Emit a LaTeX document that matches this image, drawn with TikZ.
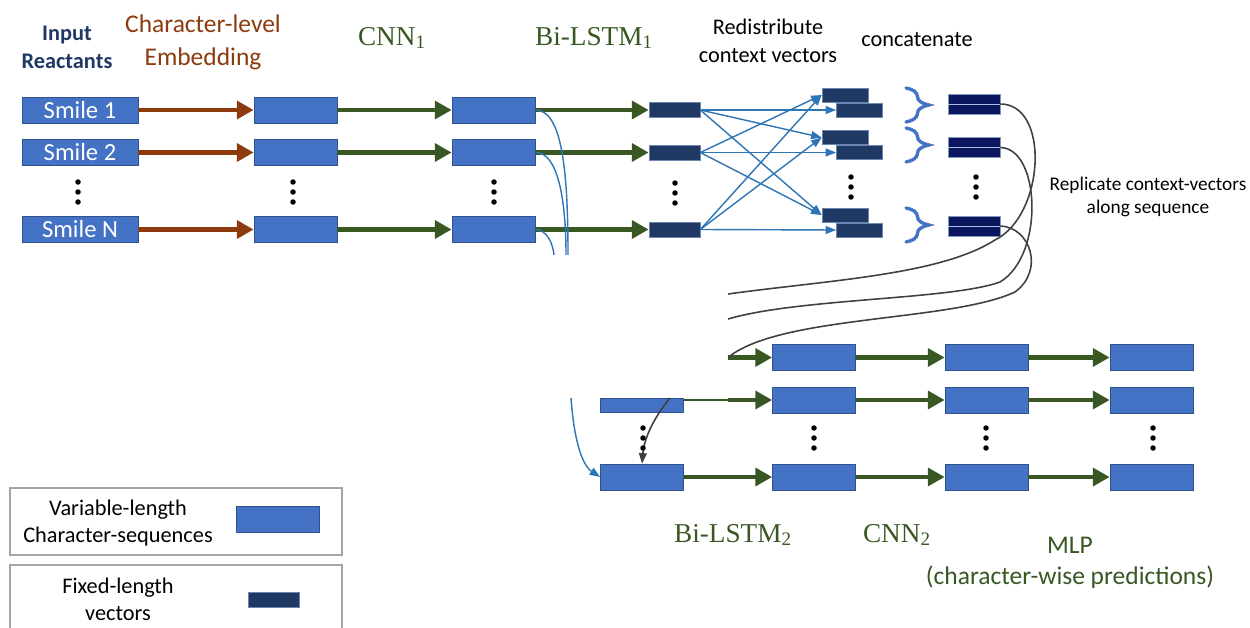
\documentclass[tikz,border=0pt]{standalone}
\usepackage{fontspec}
\setmainfont{Carlito}
\newfontfamily\layerfont{Liberation Serif}
\usetikzlibrary{arrows.meta,positioning,decorations.pathreplacing}
\definecolor{boxblue}{RGB}{68,114,196}
\definecolor{boxedge}{RGB}{47,82,143}
\definecolor{vecnavy}{RGB}{32,56,100}
\definecolor{catnavy}{RGB}{12,22,94}
\definecolor{flowgreen}{RGB}{56,87,35}
\definecolor{embbrown}{RGB}{140,58,14}
\definecolor{ctxblue}{RGB}{46,117,182}
\definecolor{repgray}{RGB}{64,64,64}
\definecolor{leggray}{RGB}{165,165,165}

\begin{document}
\begin{tikzpicture}[x=0.02cm, y=-0.02cm,
    seqbox/.style={draw=boxedge, fill=boxblue, line width=.4pt, minimum width=1.66cm, minimum height=.52cm, inner sep=0pt},
    smilebox/.style={seqbox, minimum width=2.32cm, text=white, font=\fontsize{14}{16}\selectfont},
    vecbox/.style={draw=boxedge!70, fill=vecnavy, line width=.4pt, minimum width=1.02cm, minimum height=.30cm, inner sep=0pt},
    halfbox/.style={vecbox, minimum width=.92cm, minimum height=.28cm},
    catbox/.style={draw=boxedge!60, fill=catnavy, line width=.4pt, minimum width=1.04cm, minimum height=.40cm, inner sep=0pt},
    flow/.style={flowgreen, line width=2.8pt, -{Triangle[length=9.5pt,width=10pt]}},
    thinflow/.style={flowgreen, line width=1.3pt},
    embflow/.style={flow, embbrown},
    ctx/.style={ctxblue, line width=.8pt},
    ctxarrow/.style={ctx, -{Triangle[length=6pt,width=4.5pt]}},
    rep/.style={repgray, line width=.9pt},
    brace/.style={boxblue, line width=1.9pt, line cap=round, decorate, decoration={brace, amplitude=13pt}},
    layer/.style={text=flowgreen, font=\layerfont\fontsize{15.5}{18}\selectfont},
    head/.style={align=center, font=\fontsize{12.7}{15.9}\selectfont},
    legtext/.style={align=center, font=\fontsize{12.7}{15.3}\selectfont},
  ]
  \useasboundingbox (0,0) rectangle (1250,628);

  % headings
  \node[head, text=vecnavy, font=\bfseries\fontsize{12.7}{15.9}\selectfont] (hInput) at (67,47) {Input\\Reactants};
  \node[head, text=embbrown, font=\fontsize{14.5}{18.7}\selectfont] (hEmb) at (203,42) {Character-level\\Embedding};
  \node[layer] (hCNN1) at (392,38) {CNN\textsubscript{1}};
  \node[layer] (hLSTM1) at (594,38) {Bi-LSTM\textsubscript{1}};
  \node[head] (hRedist) at (768,41) {Redistribute\\context vectors};
  \node[head] (hConcat) at (917,40) {concatenate};
  \node[head, font=\fontsize{11}{13}\selectfont] (hRepl) at (1148,197) {Replicate context-vectors\\along sequence};

  % encoder rows
  \foreach \i/\y/\lab in {1/110/Smile 1,2/152.5/Smile 2,3/229.5/Smile N} {
    \node[smilebox] (s\i) at (80,\y) {\lab};
    \node[seqbox] (e\i) at (295.5,\y) {};
    \node[seqbox] (c\i) at (493.5,\y) {};
    \node[vecbox] (v\i) at (674.5,\y) {};
    \draw[embflow] (s\i) -- (e\i);
    \draw[flow] (e\i) -- (c\i);
    \draw[flow] (c\i) -- (v\i);
  }

  % redistributed context vectors
  \foreach \i/\y in {1/95,2/137.5,3/215} {
    \node[halfbox] (p\i) at (845,\y) {};
    \node[halfbox] (q\i) at (859.5,\y+15) {};
  }
  \foreach \i in {1,2,3} {
    \draw[ctxarrow] (v\i.east) -- (q\i.west);
    \foreach \j in {1,2,3} {
      \ifnum\i=\j\else \draw[ctxarrow] (v\i.east) -- (p\j.west); \fi
    }
  }

  % concatenated vectors
  \foreach \i/\y/\b in {1/104/88,2/147.5/128,3/226/208} {
    \node[catbox] (k\i) at (974,\y) {};
    \draw[boxblue!45, line width=.5pt] (k\i.west) -- (k\i.east);
    \draw[brace] (906,\b) -- (906,\b+34);
  }

  % decoder rows
  \foreach \x/\n in {814/2,986.5/3,1151.5/4} {
    \node[seqbox] (la\n) at (\x,357.5) {};
    \node[seqbox] (lb\n) at (\x,400) {};
    \node[seqbox] (lc\n) at (\x,477) {};
  }
  \node[seqbox, minimum height=.28cm] (lb1) at (642,405) {};
  \node[seqbox] (lc1) at (642,477) {};
  \coordinate (inA) at (728,357.5);
  \coordinate (inB) at (728,400);
  \draw[flow] (inA) -- (la2);
  \draw[thinflow] (lb1.east |- inB) -- (inB);
  \draw[flow] (inB) -- (lb2);
  \draw[flow] (lc1) -- (lc2);
  \foreach \r in {a,b,c} {
    \draw[flow] (l\r2) -- (l\r3);
    \draw[flow] (l\r3) -- (l\r4);
  }

  % replication curves
  \coordinate (repA) at (728,294);
  \coordinate (repB) at (728,319);
  \draw[rep] (k1.east) .. controls (1050,104) and (1045,215) .. (995,240)
    .. controls (940,275) and (830,280) .. (repA);
  \draw[rep] (k2.east) .. controls (1040,148) and (1045,255) .. (1000,282)
    .. controls (950,300) and (800,298) .. (repB);
  \draw[rep] (k3.east) .. controls (1030,227) and (1045,270) .. (1015,292)
    .. controls (950,322) and (780,315) .. (inA);

  % skip connections
  \coordinate (dn1) at (568,255);
  \coordinate (dn2) at (566,255);
  \coordinate (dn3) at (554,255);
  \draw[ctx] (c1.east) .. controls (562,110) and (568,170) .. (dn1);
  \draw[ctx] (c2.east) .. controls (558,152) and (566,200) .. (dn2);
  \draw[ctx] (c3.east) .. controls (548,230) and (553,245) .. (dn3);
  \coordinate (up) at (571,398);
  \draw[ctxarrow] (up) .. controls (574,440) and (582,465) .. (lc1.west);
  \coordinate (gs) at (670,398);
  \draw[rep, -{Triangle[length=6pt,width=4.5pt]}] (gs) .. controls (652,420) and (644,440) .. (lc1.north);

  % dots
  \foreach \x/\y in {78/192,293/192,494/192,675/193,851/187,976/187,643/438,814/438,986/438,1153/438}
    \foreach \d in {-10,0,10}
      \fill (\x,\y+\d) circle (0.055cm);

  % bottom labels
  \node[layer] (hLSTM2) at (733,535) {Bi-LSTM\textsubscript{2}};
  \node[layer] (hCNN2) at (897,535) {CNN\textsubscript{2}};
  \node[align=center, text=flowgreen, font=\fontsize{14.5}{17.6}\selectfont] (hMLP) at (1070,563) {MLP\\(character-wise predictions)};

  % legend
  \draw[leggray, line width=.6pt] (10,488) rectangle (342,555);
  \draw[leggray, line width=.6pt] (10,565) rectangle (342,660);
  \node[legtext] (legVar) at (118,523) {Variable-length\\Character-sequences};
  \node[seqbox] (legSeq) at (277.5,519) {};
  \node[legtext] (legFix) at (118,599) {Fixed-length\\vectors};
  \node[vecbox] (legVec) at (274,600) {};
\end{tikzpicture}
\end{document}
